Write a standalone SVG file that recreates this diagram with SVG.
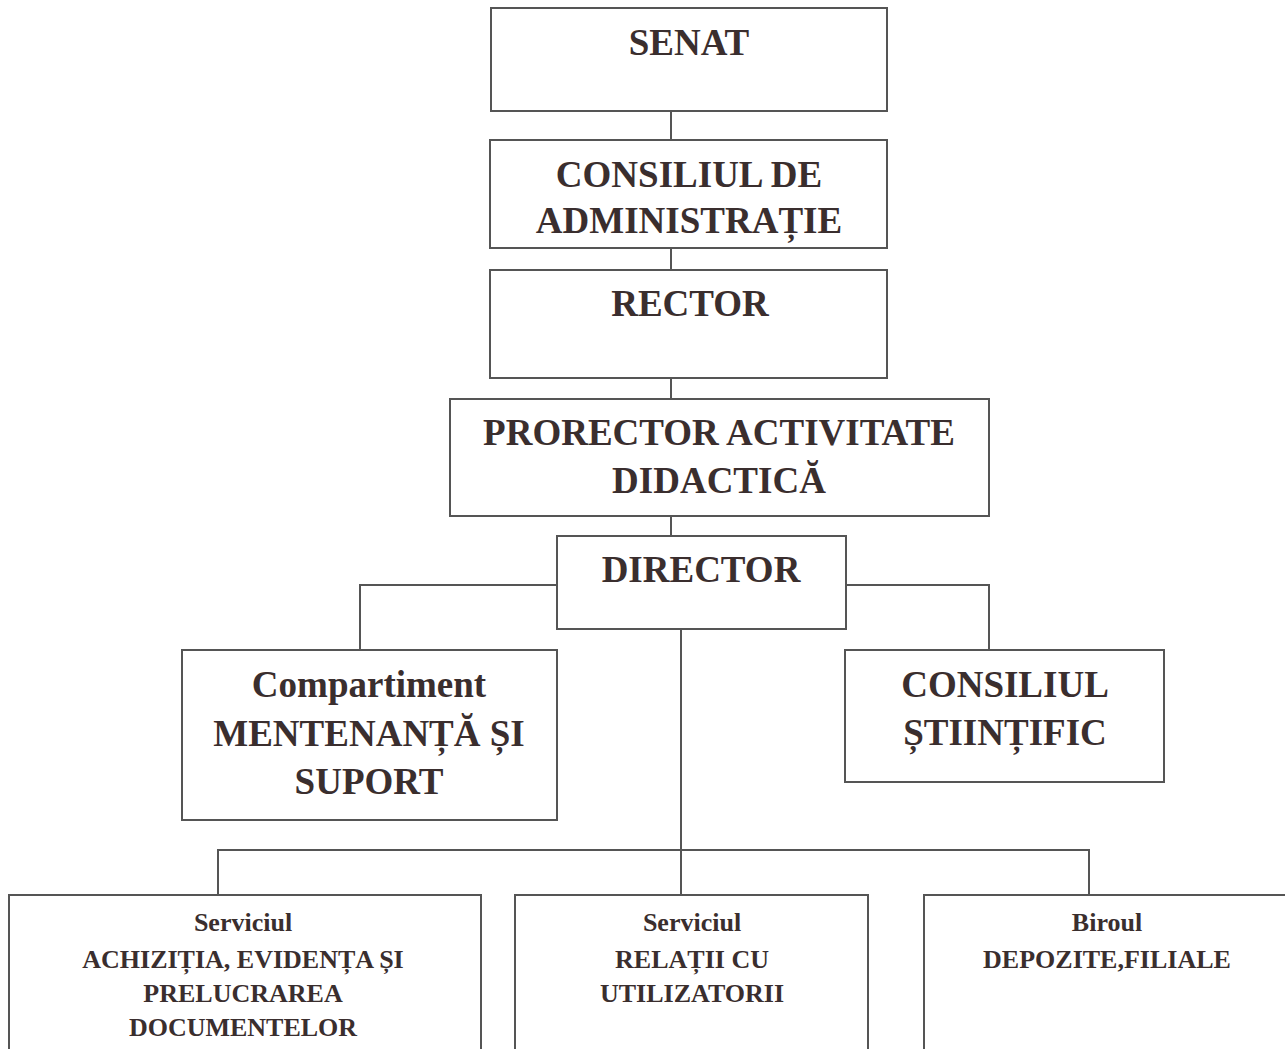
<svg xmlns="http://www.w3.org/2000/svg" width="1285" height="1049" viewBox="0 0 1285 1049">
<style>
.box{fill:#fff;stroke:#555;stroke-width:2}
.c{fill:none;stroke:#555;stroke-width:2}
.t{font-family:"Liberation Serif","Times New Roman",serif;font-weight:bold;font-size:37px;fill:#3a2e2e;text-anchor:middle}
.s{font-family:"Liberation Serif","Times New Roman",serif;font-weight:bold;font-size:26px;fill:#3a2e2e;text-anchor:middle}
</style>
<rect width="1285" height="1049" fill="#fff"/>
<g id="connectors">
<line class="c" x1="671" y1="111" x2="671" y2="140"/>
<line class="c" x1="671" y1="248" x2="671" y2="270"/>
<line class="c" x1="671" y1="378" x2="671" y2="399"/>
<line class="c" x1="671" y1="516" x2="671" y2="536"/>
<polyline class="c" points="557,585 360,585 360,650"/>
<polyline class="c" points="846,585 989,585 989,650"/>
<line class="c" x1="681" y1="629" x2="681" y2="895"/>
<polyline class="c" points="218,895 218,850 1089,850 1089,895"/>
</g>
<g id="senat"><rect class="box" x="491" y="8" width="396" height="103"/><text class="t" x="689" y="55">SENAT</text></g>
<g id="consiliul-admin"><rect class="box" x="490" y="140" width="397" height="108"/><text class="t" x="689" y="187">CONSILIUL DE</text><text class="t" x="689" y="233">ADMINISTRAȚIE</text></g>
<g id="rector"><rect class="box" x="490" y="270" width="397" height="108"/><text class="t" x="690" y="316">RECTOR</text></g>
<g id="prorector"><rect class="box" x="450" y="399" width="539" height="117"/><text class="t" x="719" y="445">PRORECTOR ACTIVITATE</text><text class="t" x="719" y="493">DIDACTICĂ</text></g>
<g id="director"><rect class="box" x="557" y="536" width="289" height="93"/><text class="t" x="701" y="582">DIRECTOR</text></g>
<g id="compartiment"><rect class="box" x="182" y="650" width="375" height="170"/><text class="t" x="369" y="697">Compartiment</text><text class="t" x="369" y="746">MENTENANȚĂ ȘI</text><text class="t" x="369" y="794">SUPORT</text></g>
<g id="consiliul-stiintific"><rect class="box" x="845" y="650" width="319" height="132"/><text class="t" x="1005" y="697">CONSILIUL</text><text class="t" x="1005" y="745">ȘTIINȚIFIC</text></g>
<g id="serviciul-achizitia"><rect class="box" x="9" y="895" width="472" height="170"/><text class="s" x="243" y="931">Serviciul</text><text class="s" x="243" y="968">ACHIZIȚIA, EVIDENȚA ȘI</text><text class="s" x="243" y="1002">PRELUCRAREA</text><text class="s" x="243" y="1036">DOCUMENTELOR</text></g>
<g id="serviciul-relatii"><rect class="box" x="515" y="895" width="353" height="170"/><text class="s" x="692" y="931">Serviciul</text><text class="s" x="692" y="968">RELAȚII CU</text><text class="s" x="692" y="1002">UTILIZATORII</text></g>
<g id="biroul"><rect class="box" x="924" y="895" width="380" height="170"/><text class="s" x="1107" y="931">Biroul</text><text class="s" x="1107" y="968">DEPOZITE,FILIALE</text></g>
</svg>
